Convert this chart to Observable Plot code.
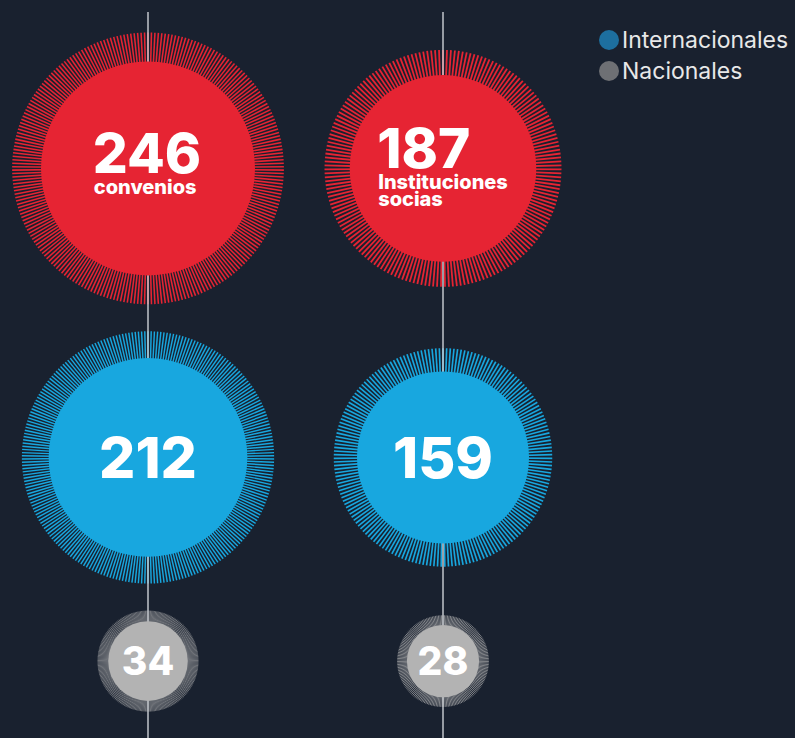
<!DOCTYPE html>
<html><head><meta charset="utf-8">
<script src="https://cdn.jsdelivr.net/npm/d3@7"></script>
<script src="https://cdn.jsdelivr.net/npm/@observablehq/plot@0.6"></script>
<style>
html,body{margin:0;padding:0;background:#19212f;}
#wrap{position:relative;width:795px;height:738px;overflow:hidden;}
#wrap svg{display:block;}
#legend{position:absolute;left:599px;top:24px;font-family:Inter,sans-serif;font-size:23px;color:#e8e8e8;white-space:nowrap;}
.row{display:flex;align-items:center;height:31px;}
.sw{width:20px;height:20px;border-radius:50%;margin-right:3px;flex:none;}
</style></head><body>
<div id="wrap"><div id="legend"></div></div>
<script>
// ---- data ----
const columns = ["convenios", "instituciones"];
const columnLabels = ["convenios", "Instituciones\nsocias"];
const levels = ["Total", "Internacionales", "Nacionales"];
const convenios = [246, 212, 34];
const instituciones = [187, 159, 28];
const legendLabels = ["Internacionales", "Nacionales"];

// ---- style ----
const W = 795, H = 738;
const BG = "#19212f";
const fills = {Total: "#e62433", Internacionales: "#18a7df", Nacionales: "#b3b3b3"};
const legendColors = {Internacionales: "#1d6f9f", Nacionales: "#6e7074"};
const numberSize = {Total: 55, Internacionales: 57, Nacionales: 39};
const LABEL_SIZE = 20, LABEL_LH = 16.5;
const RING = 1.27, GAP = 27, TOP = 32;
const FONT = "Inter, 'Noto Sans', sans-serif";

const values = [convenios, instituciones];
const rSpec = {type: "sqrt", domain: [0, d3.max(values.flat())], range: [0, 107]};
const rScale = Plot.scale({r: rSpec});
const xScale = Plot.scale({x: {type: "point", domain: columns, range: [147.5, 442.5], padding: 0}});

// stack rows from top using the largest ring of each row
const rowY = [];
let cursor = TOP;
levels.forEach((l, i) => {
  const R = rScale.apply(d3.max(values, col => col[i])) * RING;
  rowY.push(cursor + R);
  cursor += 2 * R + GAP;
});

const data = [];
columns.forEach((c, ci) => levels.forEach((l, li) => data.push({
  column: c, level: l, value: values[ci][li], total: values[ci][0],
  label: li === 0 ? columnLabels[ci] : null,
  x: xScale.apply(c), y: rowY[li]
})));

// radial ticks: one per unit of the column total
const ticks = [];
for (const d of data) {
  const r = rScale.apply(d.value), R = r * RING, n = d.total;
  const sw = Math.PI * (r + R) / n * 0.5;
  for (let k = 0; k < n; k++) {
    const a = 2 * Math.PI * k / n;
    ticks.push({
      x1: d.x + r * 0.8 * Math.sin(a), y1: d.y - r * 0.8 * Math.cos(a),
      x2: d.x + R * Math.sin(a), y2: d.y - R * Math.cos(a),
      color: fills[d.level], sw
    });
  }
}

// text layout
const ctx = document.createElement("canvas").getContext("2d");
const textW = (s, size) => { ctx.font = `800 ${size}px Inter`; return ctx.measureText(s).width; };

const blockNums = [], blockLabels = [], centerNums = [];
for (const d of data) {
  const fs = numberSize[d.level];
  if (d.label) {
    const lines = d.label.split("\n");
    const bw = Math.max(textW(String(d.value), fs), ...lines.map(s => textW(s, LABEL_SIZE)));
    const left = d.x - bw / 2;
    const extra = lines.length - 1;
    const numBase = d.y + 5 - 5 * extra;
    const labBase = numBase + 23.5;
    blockNums.push({x: left - 1, y: numBase - 0.32 * fs, text: String(d.value), fs});
    blockLabels.push({x: left, y: labBase - 0.71 * LABEL_SIZE, text: d.label});
  } else {
    centerNums.push({x: d.x, y: d.y + 0.04 * fs, text: String(d.value), fs});
  }
}

const chart = Plot.plot({
  width: W, height: H, margin: 0,
  x: {type: "identity", axis: null},
  y: {type: "identity", axis: null},
  r: rSpec,
  color: {type: "identity"},
  style: {background: BG, overflow: "visible"},
  marks: [
    Plot.link(ticks, {x1: "x1", y1: "y1", x2: "x2", y2: "y2", stroke: "color", strokeWidth: "sw"}),
    Plot.ruleX(columns.map(c => xScale.apply(c)), {y1: 12, y2: H, stroke: "#cdd1d6", strokeWidth: 1.4}),
    Plot.dot(data, {x: "x", y: "y", r: "value", fill: d => fills[d.level], stroke: null}),
    ...blockNums.map(t => Plot.text([t], {x: "x", y: "y", text: "text", textAnchor: "start", lineAnchor: "middle",
      fontSize: t.fs, fontWeight: 800, fontFamily: FONT, fill: "white"})),
    Plot.text(blockLabels, {x: "x", y: "y", text: "text", textAnchor: "start", lineAnchor: "top",
      lineHeight: LABEL_LH / LABEL_SIZE, fontSize: LABEL_SIZE, fontWeight: 800, fontFamily: FONT, fill: "white"}),
    ...centerNums.map(t => Plot.text([t], {x: "x", y: "y", text: "text", textAnchor: "middle", lineAnchor: "middle",
      fontSize: t.fs, fontWeight: 800, fontFamily: FONT, fill: "white"}))
  ]
});
document.getElementById("wrap").prepend(chart);

const legend = document.getElementById("legend");
legendLabels.forEach(l => {
  const row = document.createElement("div");
  row.className = "row";
  row.innerHTML = `<span class="sw" style="background:${legendColors[l]}"></span><span>${l}</span>`;
  legend.appendChild(row);
});
</script>
</body></html>
